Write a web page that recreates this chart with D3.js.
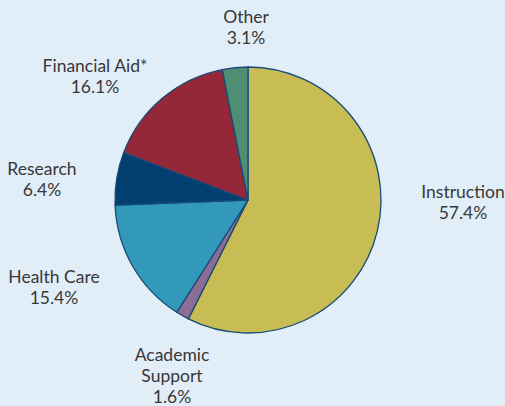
<!DOCTYPE html>
<html>
<head>
<meta charset="utf-8">
<script src="https://cdn.jsdelivr.net/npm/d3@7"></script>
<style>
  body { margin: 0; background: #e1eef7; }
  svg { display: block; }
</style>
</head>
<body>
<svg id="chart"></svg>
<script>
const categories = ['Instruction', 'Academic Support', 'Health Care', 'Research', 'Financial Aid*', 'Other']
const shares = [57.4, 1.6, 15.4, 6.4, 16.1, 3.1]
const colours = ['#c8bd55', '#8c6d94', '#3399bb', '#003f70', '#952838', '#4e8f72']
// label text split into lines
const labelLines = [['Instruction'], ['Academic', 'Support'], ['Health Care'], ['Research'], ['Financial Aid*'], ['Other']]

const width = 505
const height = 406
const cx = 248, cy = 200, radius = 133

// hand placed label anchors (centre x, first baseline y)
const labelAnchor = [[463, 198], [172, 361], [54, 283], [42, 175], [95, 72], [246, 23]]
const lineHeight = 21

const data = categories.map((c, i) => ({name: c, value: shares[i], colour: colours[i], lines: labelLines[i], anchor: labelAnchor[i]}))

const svg = d3.select('#chart')
    .attr('width', width)
    .attr('height', height)
    .style('background', '#e1eef7')

const pie = d3.pie()
    .value(d => d.value)
    .sort(null)

const arc = d3.arc()
    .innerRadius(0)
    .outerRadius(radius)

// slices
svg.append('g')
    .attr('transform', `translate(${cx}, ${cy})`)
  .selectAll('path')
    .data(pie(data))
    .enter()
    .append('path')
      .attr('d', arc)
      .style('fill', d => d.data.colour)
      .style('stroke', '#174a78')
      .style('stroke-width', 1.3)
      .style('stroke-linejoin', 'round')

// labels
const labels = svg.append('g')
    .style('font-family', 'Lato, sans-serif')
    .style('font-size', '17.5px')
    .style('fill', '#383838')
    .attr('text-anchor', 'middle')

labels.selectAll('text')
    .data(data)
    .enter()
    .append('text')
      .attr('x', d => d.anchor[0])
      .attr('y', d => d.anchor[1])
      .each(function(d) {
          const t = d3.select(this)
          const lines = d.lines.concat([d.value.toFixed(1) + '%'])
          lines.forEach((line, i) => {
              t.append('tspan')
                  .attr('x', d.anchor[0])
                  .attr('dy', i === 0 ? 0 : lineHeight)
                  .text(line)
          })
      })
</script>
</body>
</html>
